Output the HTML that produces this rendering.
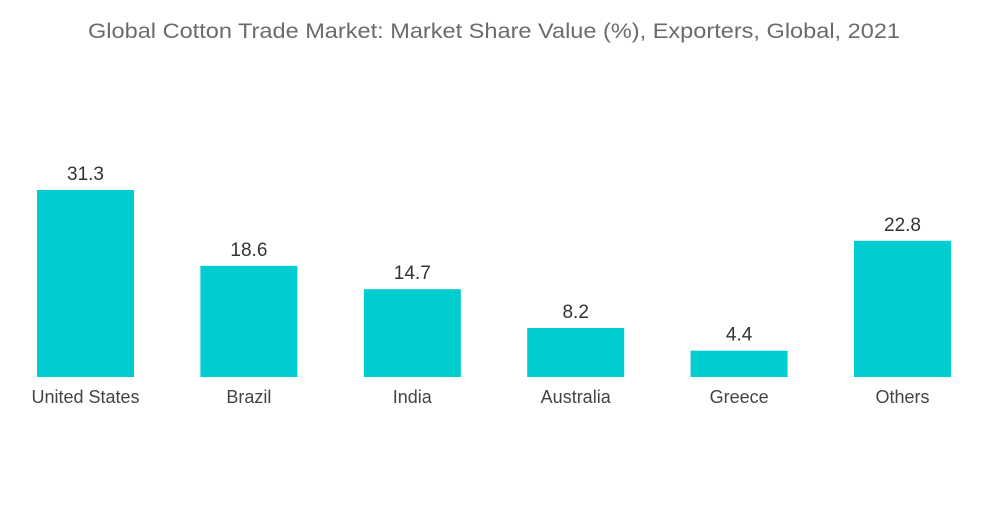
<!DOCTYPE html>
<html><head><meta charset="utf-8"><style>
body{margin:0;background:#fff;width:1000px;height:504px;overflow:hidden;font-family:"Liberation Sans",sans-serif}
</style></head><body>
<svg width="1000" height="504">
<text x="494" y="38" text-anchor="middle" font-size="21" fill="#6b6b6b" textLength="812" lengthAdjust="spacingAndGlyphs">Global Cotton Trade Market: Market Share Value (%), Exporters, Global, 2021</text>
<g id="bars"></g>
</svg>
<script>
const categories=["United States","Brazil","India","Australia","Greece","Others"];
const values=[31.3,18.6,14.7,8.2,4.4,22.8];
const labels=["31.3","18.6","14.7","8.2","4.4","22.8"];
const base=377,scale=5.975,x0=37,step=163.4,bw=97;
function xPos(i){return x0+i*step;}
function yPos(v){return base-v*scale;}
const g=document.getElementById('bars');const ns="http://www.w3.org/2000/svg";
categories.forEach((c,i)=>{
 const r=document.createElementNS(ns,'rect');
 r.setAttribute('x',xPos(i));r.setAttribute('y',yPos(values[i]));r.setAttribute('width',bw);r.setAttribute('height',base-yPos(values[i]));r.setAttribute('fill','#00cdd0');
 
 
 g.appendChild(r);
 const t=document.createElementNS(ns,'text');
 t.setAttribute('x',xPos(i)+bw/2);t.setAttribute('y',yPos(values[i])-10);t.setAttribute('text-anchor','middle');t.setAttribute('font-size','19');t.setAttribute('fill','#333');
 t.textContent=labels[i];
 
 
 g.appendChild(t);
 const l=document.createElementNS(ns,'text');
 l.setAttribute('x',xPos(i)+bw/2);l.setAttribute('y',403);l.setAttribute('text-anchor','middle');l.setAttribute('font-size','18');l.setAttribute('fill','#444');
 l.textContent=c;
 
 
 g.appendChild(l);
});
</script>
</body></html>
